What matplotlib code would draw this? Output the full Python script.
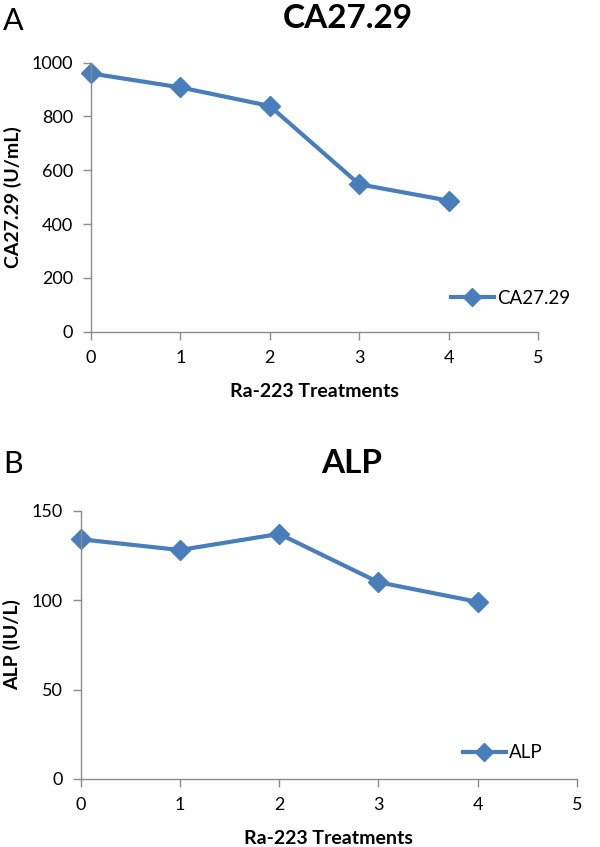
import matplotlib
matplotlib.use('Agg')
import matplotlib.pyplot as plt

plt.rcParams['font.family'] = ['Lato', 'DejaVu Sans']

treatments = [0, 1, 2, 3, 4]
ca2729 = [960, 908, 839, 548, 487]
alp = [134, 128, 137, 110, 99]

blue = '#4a7ebb'
grey = '#8c8c8c'


def style_axes(ax, ymax, ystep):
    ax.set_xlim(0, 5)
    ax.set_ylim(0, ymax)
    ax.set_xticks(range(0, 6))
    ax.set_yticks(range(0, ymax + 1, ystep))
    for s in ['top', 'right']:
        ax.spines[s].set_visible(False)
    for s in ['left', 'bottom']:
        ax.spines[s].set_color(grey)
        ax.spines[s].set_linewidth(1.0)
    ax.tick_params(direction='out', length=6, width=1.0, color=grey,
                   labelsize=13, pad=7)
    for lab in ax.get_xticklabels() + ax.get_yticklabels():
        lab.set_clip_on(False)


def add_legend(ax, x, y):
    ax.legend(loc='center left', bbox_to_anchor=(x, y), frameon=False,
              fontsize=13.5, handlelength=2.3, handletextpad=0.15,
              markerscale=0.85, borderpad=0, borderaxespad=0)


fig = plt.figure(figsize=(6, 8.47), dpi=100)

# panel A
ax1 = fig.add_axes([0.1517, 0.6084, 0.745, 0.3176])
ax1.plot(treatments, ca2729, color=blue, lw=3.0, marker='D', ms=10.5,
         label='CA27.29', clip_on=False)
style_axes(ax1, 1000, 200)
ax1.set_xlabel('Ra-223 Treatments', fontsize=14, fontweight='bold')
ax1.xaxis.set_label_coords(0.5, -0.19)
ax1.set_ylabel('CA27.29 (U/mL)', fontsize=14, fontweight='bold')
ax1.yaxis.set_label_coords(-0.155, 0.5)
add_legend(ax1, 0.805, 0.125)

# panel B
ax2 = fig.add_axes([0.1345, 0.0803, 0.827, 0.3168])
ax2.plot(treatments, alp, color=blue, lw=3.0, marker='D', ms=10.5,
         label='ALP', clip_on=False)
style_axes(ax2, 150, 50)
ax2.set_xlabel('Ra-223 Treatments', fontsize=14, fontweight='bold')
ax2.xaxis.set_label_coords(0.5, -0.19)
ax2.set_ylabel('ALP (IU/L)', fontsize=14, fontweight='bold')
ax2.yaxis.set_label_coords(-0.12, 0.5)
add_legend(ax2, 0.770, 0.097)

fig.text(348 / 600, 1 - 28 / 847, 'CA27.29', fontsize=24, fontweight='bold',
         ha='center', va='baseline')
fig.text(352 / 600, 1 - 473 / 847, 'ALP', fontsize=24, fontweight='bold',
         ha='center', va='baseline')
fig.text(3 / 600, 1 - 30 / 847, 'A', fontsize=22, ha='left', va='baseline')
fig.text(3 / 600, 1 - 473 / 847, 'B', fontsize=22, ha='left', va='baseline')

fig.savefig('out.png', dpi=100)
